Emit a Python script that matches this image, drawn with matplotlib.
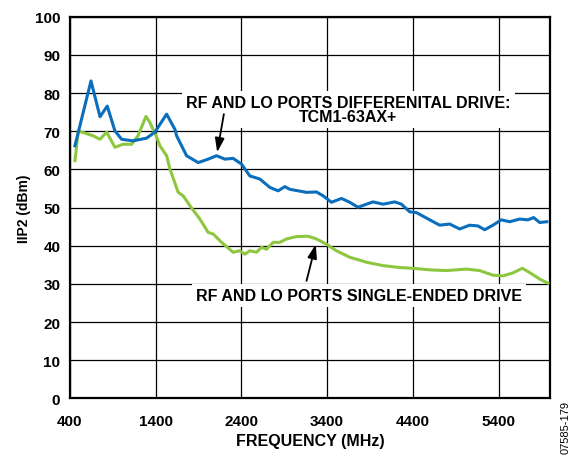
import matplotlib.pyplot as plt

# --- Data ---------------------------------------------------------------
diff_freq = [458, 645, 750, 835, 924, 1003, 1134, 1294, 1391, 1527, 1624, 1644, 1760,
             1895, 2012, 2110, 2207, 2303, 2401, 2498, 2614, 2731, 2828, 2906, 2964,
             3061, 3159, 3275, 3352, 3450, 3567, 3663, 3760, 3858, 3935, 4052, 4188,
             4266, 4363, 4441, 4596, 4712, 4829, 4945, 5062, 5159, 5237, 5334, 5431,
             5528, 5645, 5742, 5808, 5878, 5963]
diff_iip2 = [66.2, 83.2, 73.8, 76.6, 70.1, 67.9, 67.5, 68.2, 69.8, 74.5, 70.5, 68.8, 63.6,
             61.8, 62.7, 63.6, 62.7, 62.9, 61.4, 58.3, 57.5, 55.3, 54.4, 55.5, 54.8,
             54.4, 54.0, 54.1, 53.1, 51.4, 52.4, 51.4, 50.1, 50.9, 51.5, 50.9, 51.5,
             50.9, 48.9, 48.7, 46.8, 45.4, 45.7, 44.4, 45.4, 45.2, 44.2, 45.4, 46.8,
             46.3, 47.0, 46.8, 47.4, 46.1, 46.3]

se_freq = [458, 497, 672, 750, 828, 924, 1018, 1119, 1193, 1286, 1332, 1410, 1449, 1527,
           1566, 1662, 1720, 1799, 1915, 2012, 2070, 2168, 2303, 2381, 2440, 2498, 2576,
           2634, 2692, 2770, 2848, 2926, 3042, 3177, 3275, 3392, 3508, 3663, 3858, 4052,
           4246, 4401, 4596, 4790, 5023, 5179, 5334, 5450, 5567, 5676, 5761, 5878, 5975]
se_iip2 = [62.3, 70.1, 68.8, 67.9, 69.8, 65.8, 66.6, 66.6, 68.8, 73.9, 72.3, 68.5, 66.2, 63.6,
           60.1, 54.0, 53.1, 50.5, 47.0, 43.5, 43.1, 40.9, 38.3, 38.7, 37.8, 38.7, 38.3,
           39.6, 39.1, 40.9, 40.9, 41.8, 42.4, 42.5, 41.8, 40.4, 38.7, 37.0, 35.7, 34.8,
           34.3, 34.1, 33.7, 33.5, 33.9, 33.5, 32.3, 32.1, 32.9, 34.1, 33.0, 31.3, 30.2]

x_ticks = [400, 1400, 2400, 3400, 4400, 5400]
y_ticks = list(range(0, 101, 10))

# --- Plot ---------------------------------------------------------------
plt.rcParams["font.family"] = ["Liberation Sans", "DejaVu Sans"]
plt.rcParams["font.weight"] = "bold"

fig = plt.figure(figsize=(5.76, 4.56), dpi=100)
ax = fig.add_axes([0.1215, 0.124, 0.8335, 0.837])

ax.plot(diff_freq, diff_iip2, color="#0a6ebd", linewidth=2.2, zorder=4,
        solid_joinstyle="round")
ax.plot(se_freq, se_iip2, color="#8dc63f", linewidth=2.2, zorder=3,
        solid_joinstyle="round")

ax.set_xlim(400, 6000)
ax.set_ylim(0, 100)
ax.set_xticks(x_ticks)
ax.set_yticks(y_ticks)
ax.tick_params(axis="x", length=0, labelsize=11, pad=11)
ax.tick_params(axis="y", length=0, labelsize=11, pad=7)
for lbl in ax.get_xticklabels() + ax.get_yticklabels():
    lbl.set_fontweight("bold")
ax.grid(color="black", linewidth=0.9, zorder=1)
ax.set_axisbelow(True)
for s in ax.spines.values():
    s.set_linewidth(1.6)

ax.set_xlabel("FREQUENCY (MHz)", fontsize=11.5, fontweight="bold", labelpad=4)
ax.set_ylabel("IIP2 (dBm)", fontsize=10, fontweight="bold", labelpad=3)

box = dict(facecolor="white", edgecolor="none", pad=3)
ax.text(3646, 75.7, "RF AND LO PORTS DIFFERENITAL DRIVE:\nTCM1-63AX+", ha="center",
        va="center", multialignment="center", fontsize=11.5, fontweight="bold",
        linespacing=0.95, bbox=box, zorder=2)
ax.text(3768, 27.0, "RF AND LO PORTS SINGLE-ENDED DRIVE", ha="center", va="center",
        fontsize=11.5, fontweight="bold", bbox=box, zorder=2)

arrow = dict(arrowstyle="-|>,head_length=0.6,head_width=0.2", color="black", lw=1.3,
             mutation_scale=14, shrinkA=0, shrinkB=0)
ax.annotate("", xy=(2117, 64.5), xytext=(2195, 74.5), arrowprops=arrow, zorder=5)
ax.annotate("", xy=(3267, 40.4), xytext=(3159, 30.8), arrowprops=arrow, zorder=5)

fig.text(0.982, 0.062, "07585-179", rotation=90, fontsize=8, fontweight="normal",
         ha="center", va="center")

fig.savefig("out.png", dpi=100)
